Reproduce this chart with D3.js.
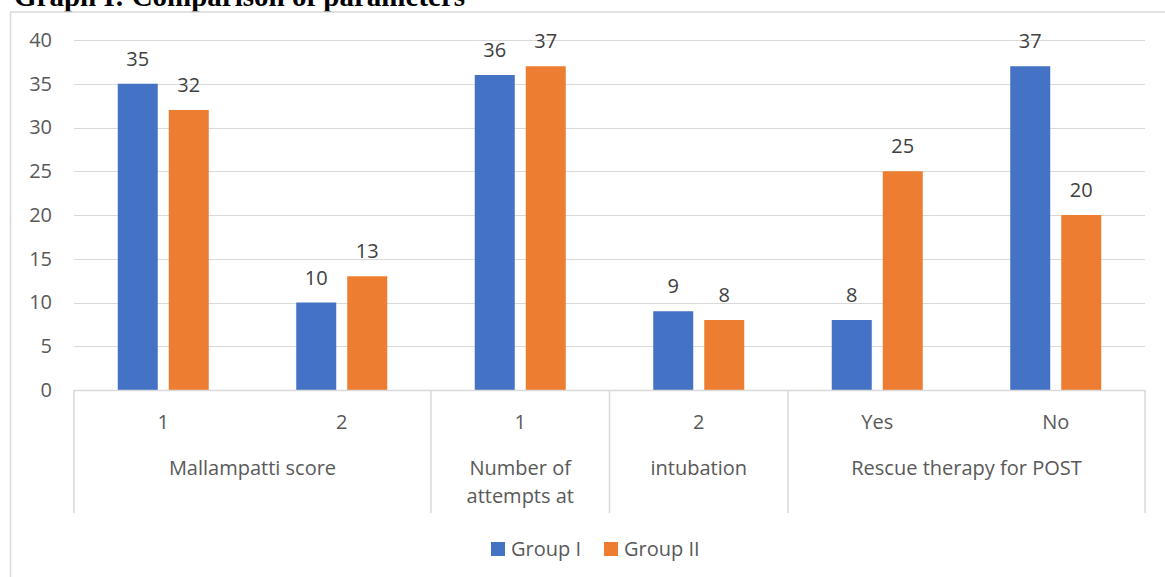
<!DOCTYPE html>
<html>
<head>
<meta charset="utf-8">
<script src="https://cdn.jsdelivr.net/npm/d3@7/dist/d3.min.js"></script>
<style>
  body { margin: 0; background: #fff; }
  svg { display: block; }
  text { font-family: "Open Sans", sans-serif; }
</style>
</head>
<body>
<svg id="chart" width="1165" height="577"></svg>
<script>
"use strict";

// Data
var categories = ["1", "2", "1", "2", "Yes", "No"];
var groupLabels = [["Mallampatti score"], ["Number of", "attempts at"], ["intubation"], ["Rescue therapy for POST"]];
var groupSpans = [2, 1, 1, 2];
var seriesNames = ["Group I", "Group II"];
var groupI = [35, 10, 36, 9, 8, 37];
var groupII = [32, 13, 37, 8, 25, 20];
var yTicks = [0, 5, 10, 15, 20, 25, 30, 35, 40];
var colors = ["#4472C4", "#ED7D31"];

var svg = d3.select("#chart");
var W = 1165, H = 577;
var plotLeft = 74, plotRight = 1145, plotTop = 40, plotBottom = 390;
var gridColor = "#d9d9d9";
var fontSize = "20px";

// Title (cut off at the top, like the source page)
svg.append("text")
    .attr("x", 14)
    .attr("y", 6)
    .style("font-family", "'Liberation Serif', 'Times New Roman', serif")
    .style("font-weight", "bold")
    .style("font-size", "29px")
    .attr("fill", "#000")
    .text("Graph I: Comparison of parameters");

// Chart frame
svg.append("rect")
    .attr("x", 10.5)
    .attr("y", 12)
    .attr("width", W + 20)
    .attr("height", H + 20)
    .attr("fill", "none")
    .attr("stroke", gridColor)
    .attr("stroke-width", 1.5);

var x0 = d3.scaleBand()
    .domain(d3.range(categories.length))
    .range([plotLeft, plotRight])
    .padding(0);

var bw = x0.bandwidth();
var x1 = d3.scaleBand()
    .domain(seriesNames)
    .range([bw / 2 - 45.5, bw / 2 + 45.5])
    .paddingInner(0.216);

var y = d3.scaleLinear()
    .domain([0, 40])
    .range([plotBottom, plotTop]);

// Gridlines
svg.append("g")
    .selectAll("line")
    .data(yTicks.filter(function(d){return d > 0;}))
    .enter()
    .append("line")
    .attr("x1", plotLeft)
    .attr("x2", plotRight)
    .attr("y1", function(d){return Math.round(y(d)) + 0.5;})
    .attr("y2", function(d){return Math.round(y(d)) + 0.5;})
    .attr("stroke", gridColor)
    .attr("stroke-width", 1.2);

// Y axis labels
var yAxis = d3.axisLeft(y)
    .tickValues(yTicks)
    .tickSize(0)
    .tickPadding(22);

var gy = svg.append("g")
    .attr("transform", "translate(" + plotLeft + ",0)")
    .call(yAxis);
gy.select(".domain").remove();
gy.selectAll("text")
    .style("font-family", "'Open Sans', sans-serif")
    .style("font-size", fontSize)
    .attr("fill", "#595959");

// Bars
var series = [groupI, groupII];
series.forEach(function(vals, si) {
    svg.append("g")
        .selectAll("rect")
        .data(vals)
        .enter()
        .append("rect")
        .attr("x", function(d, i){return x0(i) + x1(seriesNames[si]);})
        .attr("y", function(d){return y(d);})
        .attr("width", x1.bandwidth())
        .attr("height", function(d){return y(0) - y(d);})
        .attr("fill", colors[si]);

    svg.append("g")
        .selectAll("text")
        .data(vals)
        .enter()
        .append("text")
        .attr("x", function(d, i){return x0(i) + x1(seriesNames[si]) + x1.bandwidth() / 2;})
        .attr("y", function(d){return y(d) - 18;})
        .attr("text-anchor", "middle")
        .style("font-size", fontSize)
        .attr("fill", "#404040")
        .text(function(d){return d;});
});

// X axis line
svg.append("line")
    .attr("x1", plotLeft)
    .attr("x2", plotRight)
    .attr("y1", plotBottom + 0.5)
    .attr("y2", plotBottom + 0.5)
    .attr("stroke", gridColor)
    .attr("stroke-width", 1.5);

// Category labels
svg.append("g")
    .selectAll("text")
    .data(categories)
    .enter()
    .append("text")
    .attr("x", function(d, i){return x0(i) + bw / 2;})
    .attr("y", 429)
    .attr("text-anchor", "middle")
    .style("font-size", fontSize)
    .attr("fill", "#595959")
    .text(function(d){return d;});

// Group separators and labels
var acc = 0;
var bounds = [0];
groupSpans.forEach(function(s){ acc += s; bounds.push(acc); });

svg.append("g")
    .selectAll("line")
    .data(bounds)
    .enter()
    .append("line")
    .attr("x1", function(d){return d === categories.length ? plotRight : x0(d);})
    .attr("x2", function(d){return d === categories.length ? plotRight : x0(d);})
    .attr("y1", plotBottom)
    .attr("y2", 513)
    .attr("stroke", gridColor)
    .attr("stroke-width", 1.5);

groupLabels.forEach(function(lines, gi) {
    var a = bounds[gi], b = bounds[gi + 1];
    var xa = x0(a);
    var xb = b === categories.length ? plotRight : x0(b);
    var t = svg.append("text")
        .attr("text-anchor", "middle")
        .style("font-size", fontSize)
        .attr("fill", "#595959");
    lines.forEach(function(line, li) {
        t.append("tspan")
            .attr("x", (xa + xb) / 2)
            .attr("y", 475 + li * 28)
            .text(line);
    });
});

// Legend
var legend = svg.append("g");
var legendX = [491, 604];
seriesNames.forEach(function(name, i) {
    legend.append("rect")
        .attr("x", legendX[i])
        .attr("y", 542)
        .attr("width", 14)
        .attr("height", 14)
        .attr("fill", colors[i]);
    legend.append("text")
        .attr("x", legendX[i] + 20)
        .attr("y", 556)
        .style("font-size", fontSize)
        .attr("fill", "#595959")
        .text(name);
});
</script>
</body>
</html>
